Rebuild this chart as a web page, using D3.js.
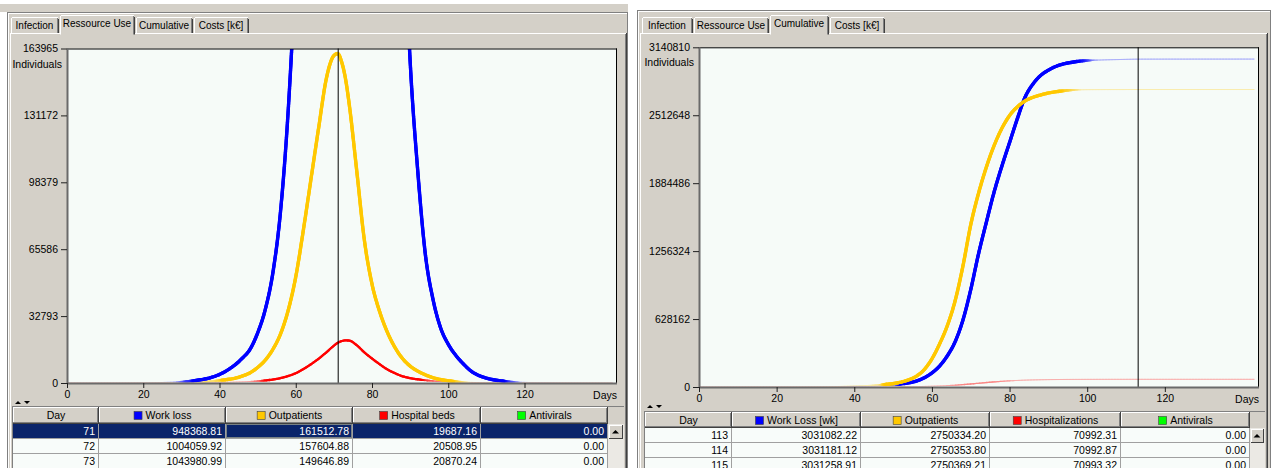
<!DOCTYPE html>
<html><head><meta charset="utf-8">
<script src="https://cdn.jsdelivr.net/npm/d3@7"></script>
<style>
body{margin:0;background:#fff;overflow:hidden;}
svg text{font-family:"Liberation Sans",Arial,sans-serif;font-size:10px;fill:#000;}
</style></head><body><svg id="c" width="1271" height="468"></svg>
<script>
// ---------------- DATA ----------------
const tabLabels = ["Infection", "Ressource Use", "Cumulative", "Costs [k€]"];
const xTicks = [0, 20, 40, 60, 80, 100, 120];
const leftYTicks = [0, 32793, 65586, 98379, 131172, 163965];
const rightYTicks = [0, 628162, 1256324, 1884486, 2512648, 3140810];
const yAxisTitle = "Individuals";
const xAxisTitle = "Days";

// Left chart: "Ressource Use" (daily)
const leftDays = [0,10,20,30,34,38,40,42,44,46,48,50,52,54,56,58,60,62,64,66,68,70,71,72,73,74,76,78,80,82,84,86,88,90,92,94,96,98,100,102,104,106,108,110,114,120,130,143];
const workLoss = [0,0,100,600,1300,2800,4200,6200,8800,12200,16500,24500,36000,54000,84000,133000,205000,300000,420000,550000,690000,880000,948368.81,1004059.92,1043980.99,1062000,1040000,950000,820000,660000,500000,360000,245000,158000,104000,63000,41000,27000,19000,13500,9300,5800,3700,2400,1000,300,50,0];
const outpatients = [0,0,50,200,400,900,1300,1700,2300,3400,5000,7600,11200,16500,24000,35500,52000,75000,100000,125000,149000,160500,161512.78,157604.88,149646.89,137000,104000,70000,48500,35000,25000,17500,12000,8300,5800,4000,2600,1700,1100,700,450,300,200,130,60,20,0,0];
const hospitalBeds = [0,0,0,50,120,200,250,330,450,580,750,950,1250,1700,2400,3400,4800,6800,9200,11900,15000,18300,19687.16,20508.95,20870.24,20800,18500,15000,12000,9200,6700,4800,3300,2400,1800,1350,1000,750,550,400,300,200,150,100,60,30,10,0];
const leftSeriesNames = ["Work loss", "Outpatients", "Hospital beds", "Antivirals"];
const leftTableDays = [71, 72, 73];
const leftTableAntivirals = [0, 0, 0];
const leftCursorDay = 71;

// Right chart: "Cumulative"
const rightDays = [0,10,20,30,40,44,48,50,52,54,56,58,60,62,64,66,68,70,72,74,76,78,80,82,84,86,88,90,92,94,96,98,100,104,108,113,114,115,120,130,143];
const workLossCum = [0,0,300,1500,6000,10000,17000,22000,29000,38000,55000,85000,130000,195000,290000,420000,620000,900000,1230000,1520000,1800000,2040000,2260000,2480000,2680000,2800000,2880000,2930000,2965000,2988000,3002000,3012000,3018000,3024000,3027500,3031082.22,3031181.12,3031258.91,3031500,3031700,3031800];
const outpatientsCum = [0,0,200,1500,9000,15000,24000,31000,45000,66000,100000,160000,260000,400000,570000,800000,1120000,1500000,1790000,2030000,2230000,2390000,2510000,2590000,2645000,2678000,2700000,2718000,2730000,2739000,2745000,2748000,2749200,2749900,2750150,2750334.20,2750353.80,2750369.21,2750420,2750460,2750480];
const hospitalizationsCum = [0,0,20,100,500,800,1300,1700,2200,2900,3900,5300,7200,9800,13000,17000,22000,28000,34500,41000,47000,52500,57000,60500,63500,65500,67000,68200,69000,69600,70000,70300,70500,70750,70880,70992.31,70992.87,70993.32,70995,70997,70998];
const rightSeriesNames = ["Work Loss [wk]", "Outpatients", "Hospitalizations", "Antivirals"];
const rightTableDays = [113, 114, 115];
const rightTableAntivirals = [0, 0, 0];
const rightCursorDay = 113;

const seriesColors = ["#0000ff", "#ffc800", "#ff0000", "#00ff00"];

// ---------------- STYLE / LAYOUT ----------------
const seriesMaxWidth = [3.4, 3.4, 2.3];
const W = 1271, H = 468;
const GREY = "#d4d0c8", DARK = "#808080", PLOTBG = "#f6fbf8", NAVY = "#0a246a", CELLBG = "#f8fcfa";
const svg = d3.select("#c");
svg.append("rect").attr("width", W).attr("height", H).attr("fill", "#fff");

function ln(g, x1, y1, x2, y2, c, w) {
  g.append("line").attr("x1", x1).attr("y1", y1).attr("x2", x2).attr("y2", y2)
    .attr("stroke", c).attr("stroke-width", w || 1);
}

function drawPanel(cfg) {
  const g = svg.append("g");
  const win = cfg.win;
  if (cfg.topBar) {
    g.append("rect").attr("x", cfg.topBar.x).attr("y", cfg.topBar.y).attr("width", cfg.topBar.w).attr("height", cfg.topBar.h).attr("fill", GREY);
  }
  g.append("rect").attr("x", win.x).attr("y", win.y).attr("width", win.w).attr("height", win.h).attr("fill", GREY);
  ln(g, win.x + 0.5, win.y, win.x + 0.5, H, DARK);
  ln(g, win.x, win.y + 0.5, win.x + win.w, win.y + 0.5, DARK);
  ln(g, win.x + 1.5, win.y + 1, win.x + 1.5, H, "#fff");
  ln(g, win.x + 1, win.y + 1.5, win.x + win.w - 1, win.y + 1.5, "#fff");
  ln(g, win.x + win.w - 0.5, win.y, win.x + win.w - 0.5, H, DARK);

  const pg = cfg.page;
  ln(g, pg.x, pg.y + 0.5, pg.x + pg.w, pg.y + 0.5, "#fff");
  ln(g, pg.x + 0.5, pg.y, pg.x + 0.5, H, "#fff");
  ln(g, pg.x + pg.w - 1.5, pg.y + 1, pg.x + pg.w - 1.5, H, DARK);
  ln(g, pg.x + pg.w - 0.5, pg.y, pg.x + pg.w - 0.5, H, "#404040");

  cfg.tabs.forEach((t, i) => {
    const sel = i === cfg.selTab;
    const top = sel ? cfg.tabTop - 2 : cfg.tabTop;
    const bot = sel ? pg.y + 1.5 : pg.y;
    g.append("rect").attr("x", t[0]).attr("y", top).attr("width", t[1] - t[0]).attr("height", bot - top).attr("fill", GREY);
    ln(g, t[0] + 0.5, top + 1, t[0] + 0.5, bot, "#fff");
    ln(g, t[0] + 1, top + 0.5, t[1] - 1, top + 0.5, "#fff");
    ln(g, t[1] - 1.5, top + 1, t[1] - 1.5, bot, DARK);
    ln(g, t[1] - 0.5, top + 2, t[1] - 0.5, bot, "#404040");
    g.append("text").attr("x", (t[0] + t[1]) / 2 - 0.5).attr("y", sel ? cfg.tabTop + 10 : cfg.tabTop + 12)
      .attr("text-anchor", "middle").style("font-size", "10px").text(tabLabels[i]);
  });

  // plot
  const p = cfg.plot;
  const xs = d3.scaleLinear().domain([0, 144]).range([p.x0, p.x1]);
  const ys = d3.scaleLinear().domain([0, cfg.yTicks[cfg.yTicks.length - 1]]).range([p.y1, p.y0]);
  const pxPerDay = xs(1) - xs(0);
  g.append("rect").attr("x", p.x0).attr("y", p.y0).attr("width", p.x1 - p.x0).attr("height", p.y1 - p.y0).attr("fill", PLOTBG);

  const clipId = "clip" + cfg.id;
  svg.append("clipPath").attr("id", clipId).append("rect")
    .attr("x", p.x0 + 1).attr("y", p.y0 + 0.5).attr("width", p.x1 - p.x0 - 1).attr("height", p.y1 - p.y0 - 1);
  const lines = g.append("g").attr("clip-path", `url(#${clipId})`);

  // smooth curve through the data via d3.line + monotone curve, stroked in short pieces
  const lineGen = d3.line().x(d => xs(d[0])).y(d => ys(d[1])).curve(d3.curveMonotoneX);
  const segs = [];
  cfg.series.forEach((vals, si) => {
    const col = seriesColors[si];
    const maxW = seriesMaxWidth[si];
    const path = lines.append("path").attr("d", lineGen(cfg.days.map((d, i) => [d, vals[i]]))).attr("fill", "none").attr("stroke", "none");
    const node = path.node();
    const len = node.getTotalLength();
    const step = 1.5;
    const local = [];
    let prev = node.getPointAtLength(0);
    for (let l = step; ; l += step) {
      const pt = node.getPointAtLength(Math.min(l, len));
      const dx = Math.abs(pt.x - prev.x), dy = Math.abs(pt.y - prev.y);
      const slope = dx < 1e-6 ? 99 : dy / (dx / pxPerDay);
      local.push({xa: prev.x, ya: prev.y, xb: pt.x, yb: pt.y, raw: Math.max(0, Math.min(1, (slope - 0.25) / 0.45)), col, maxW});
      prev = pt;
      if (l >= len) break;
    }
    const N = 7;
    local.forEach((s, i) => {
      let m = 0;
      for (let j = Math.max(0, i - N); j <= Math.min(local.length - 1, i + N); j++) m = Math.max(m, local[j].raw);
      s.t = m;
      segs.push(s);
    });
    path.remove();
  });
  segs.sort((a, b) => a.t - b.t);
  segs.forEach(s => {
    lines.append("line").attr("x1", s.xa).attr("y1", s.ya).attr("x2", s.xb).attr("y2", s.yb)
      .attr("stroke", d3.interpolateRgb(PLOTBG, s.col)(0.3 + 0.7 * s.t))
      .attr("stroke-width", 1 + (s.maxW - 1) * s.t).attr("stroke-linecap", "round");
  });

  // cursor
  ln(g, xs(cfg.cursor) + 0.5, p.y0, xs(cfg.cursor) + 0.5, p.y1, "#000");

  // frame
  ln(g, p.x0, p.y0 + 0.5, p.x1 + 1, p.y0 + 0.5, "#000");
  ln(g, p.x1 + 0.5, p.y0, p.x1 + 0.5, p.y1, "#000");

  // axes
  const ya = g.append("g").attr("transform", `translate(${p.x0},0)`)
    .call(d3.axisLeft(ys).tickValues(cfg.yTicks).tickSize(6).tickPadding(3).tickFormat(d3.format("d")));
  const xa = g.append("g").attr("transform", `translate(0,${p.y1})`)
    .call(d3.axisBottom(xs).tickValues(xTicks).tickSize(5).tickPadding(3).tickFormat(d3.format("d")));
  [ya, xa].forEach(a => {
    a.select(".domain").attr("stroke", "#6a6a6a").attr("stroke-width", 2);
    a.selectAll(".tick line").attr("stroke", "#202020");
    a.selectAll(".tick text").style("font-size", "10.5px").attr("fill", "#000");
    a.attr("font-family", null).attr("font-size", null);
  });
  ya.select(".domain").attr("d", `M0.5,${p.y0}V${p.y1}`);
  xa.select(".domain").attr("d", `M${p.x0},0.5H${p.x1 + 1}`);
  g.append("text").attr("x", p.x0 - 5).attr("y", p.y0 + 19).attr("text-anchor", "end").style("font-size", "10.5px").text(yAxisTitle);
  g.append("text").attr("x", p.x1 + 1).attr("y", p.y1 + 16).attr("text-anchor", "end").style("font-size", "10.5px").text(xAxisTitle);

  // splitter arrows
  const sp = cfg.split;
  g.append("path").attr("d", `M${sp.x},${sp.y + 3}l3,-3l3,3z`).attr("fill", "#000");
  g.append("path").attr("d", `M${sp.x + 9},${sp.y}l3,3l3,-3z`).attr("fill", "#000");

  // table
  const tb = cfg.table;
  const cols = tb.cols;
  ln(g, cols[0] - 0.5, tb.y - 1, cols[0] - 0.5, H, DARK);
  ln(g, cols[0] - 1, tb.y - 0.5, tb.scroll[1], tb.y - 0.5, DARK);
  const hdr = ["Day"].concat(cfg.names);
  for (let c = 0; c < cols.length - 1; c++) {
    const x0 = cols[c], x1 = cols[c + 1];
    g.append("rect").attr("x", x0).attr("y", tb.y).attr("width", x1 - x0).attr("height", tb.hh).attr("fill", GREY);
    ln(g, x0 + 0.5, tb.y, x0 + 0.5, tb.y + tb.hh - 1, "#fff");
    ln(g, x0, tb.y + 0.5, x1 - 1, tb.y + 0.5, "#fff");
    ln(g, x1 - 1.5, tb.y + 1, x1 - 1.5, tb.y + tb.hh, DARK);
    ln(g, x1 - 0.5, tb.y, x1 - 0.5, tb.y + tb.hh, "#404040");
    ln(g, x0, tb.y + tb.hh - 1.5, x1 - 1, tb.y + tb.hh - 1.5, DARK);
    ln(g, x0, tb.y + tb.hh - 0.5, x1, tb.y + tb.hh - 0.5, "#404040");
    const cx = (x0 + x1) / 2;
    if (c === 0) {
      g.append("text").attr("x", cx).attr("y", tb.y + 12).attr("text-anchor", "middle").style("font-size", "10.5px").text(hdr[c]);
    } else {
      const tx = g.append("text").attr("x", cx + 6).attr("y", tb.y + 12).attr("text-anchor", "middle").style("font-size", "10.5px").text(hdr[c]);
      const w = tx.node().getComputedTextLength();
      const sx = cx + 6 - w / 2 - 12;
      g.append("rect").attr("x", sx + 0.5).attr("y", tb.y + 4.5).attr("width", 8).attr("height", 8)
        .attr("fill", seriesColors[c - 1]).attr("stroke", "#404040").attr("stroke-width", 0.6);
    }
  }
  g.append("rect").attr("x", tb.scroll[0]).attr("y", tb.y).attr("width", tb.scroll[1] - tb.scroll[0]).attr("height", tb.hh).attr("fill", GREY);
  const fmt = d3.format(".2f");
  tb.rows.forEach((r, ri) => {
    const y = tb.y + tb.hh + ri * tb.rh;
    const sel = ri === cfg.selRow;
    g.append("rect").attr("x", cols[0]).attr("y", y).attr("width", cols[cols.length - 1] - cols[0]).attr("height", tb.rh)
      .attr("fill", sel ? NAVY : CELLBG);
    for (let c = 0; c < cols.length - 1; c++) {
      ln(g, cols[c + 1] - 0.5, y, cols[c + 1] - 0.5, y + tb.rh, "#a0a0a0");
      const txt = c === 0 ? String(r[0]) : fmt(r[c]);
      g.append("text").attr("x", cols[c + 1] - 4).attr("y", y + 11).attr("text-anchor", "end")
        .style("font-size", "10.5px").style("fill", sel ? "#fff" : "#000").text(txt);
    }
    ln(g, cols[0], y + tb.rh - 0.5, cols[cols.length - 1], y + tb.rh - 0.5, "#a0a0a0");
    if (sel && cfg.focusCol != null) {
      g.append("rect").attr("x", cols[cfg.focusCol] + 0.5).attr("y", y + 0.5)
        .attr("width", cols[cfg.focusCol + 1] - cols[cfg.focusCol] - 2).attr("height", tb.rh - 2)
        .attr("fill", "none").attr("stroke", "#e8e0a0").attr("stroke-dasharray", "1,1");
    }
  });
  const sx0 = tb.scroll[0], sx1 = tb.scroll[1];
  const by = tb.y + tb.hh;
  g.append("rect").attr("x", sx0).attr("y", by).attr("width", sx1 - sx0).attr("height", H - by).attr("fill", "#ebe9e4");
  g.append("rect").attr("x", sx0 + 1).attr("y", by + 1).attr("width", sx1 - sx0 - 2).attr("height", tb.rh - 1).attr("fill", GREY);
  ln(g, sx0 + 1.5, by + 1, sx0 + 1.5, by + tb.rh, "#fff");
  ln(g, sx0 + 1, by + 1.5, sx1 - 1, by + 1.5, "#fff");
  ln(g, sx1 - 1.5, by + 1, sx1 - 1.5, by + tb.rh, "#404040");
  ln(g, sx0 + 1, by + tb.rh - 0.5, sx1 - 1, by + tb.rh - 0.5, "#404040");
  const ax = (sx0 + sx1) / 2 - 0.5, ay = by + tb.rh / 2 + 2;
  g.append("path").attr("d", `M${ax - 3.5},${ay}l3.5,-3.5l3.5,3.5z`).attr("fill", "#000");
}

function tableRows(tDays, days, series, antiv) {
  return tDays.map((d, k) => {
    const i = days.indexOf(d);
    return [d].concat(series.map(s => s[i])).concat([antiv[k]]);
  });
}

drawPanel({
  id: "L",
  topBar: {x: 0, y: 4, w: 628, h: 8},
  win: {x: 7, y: 12, w: 621, h: 456},
  page: {x: 10, y: 33, w: 617},
  tabTop: 17,
  tabs: [[11, 59], [60, 135], [136, 193], [194, 249]],
  selTab: 1,
  plot: {x0: 67, x1: 616, y0: 48.5, y1: 383},
  yTicks: leftYTicks,
  days: leftDays,
  series: [workLoss, outpatients, hospitalBeds],
  cursor: leftCursorDay,
  split: {x: 15, y: 401},
  names: leftSeriesNames,
  table: {y: 407, hh: 17, rh: 15, cols: [13, 99, 226, 353, 481, 608], scroll: [608, 624],
    rows: tableRows(leftTableDays, leftDays, [workLoss, outpatients, hospitalBeds], leftTableAntivirals)},
  selRow: 0,
  focusCol: 2
});

drawPanel({
  id: "R",
  topBar: null,
  win: {x: 637, y: 10, w: 634, h: 458},
  page: {x: 640, y: 33, w: 628},
  tabTop: 17,
  tabs: [[642, 693], [694, 769], [770, 829], [830, 885]],
  selTab: 2,
  plot: {x0: 699, x1: 1258, y0: 47.3, y1: 387},
  yTicks: rightYTicks,
  days: rightDays,
  series: [workLossCum, outpatientsCum, hospitalizationsCum],
  cursor: rightCursorDay,
  split: {x: 647, y: 405},
  names: rightSeriesNames,
  table: {y: 412, hh: 16, rh: 15, cols: [645, 732, 861, 990, 1121, 1250], scroll: [1250, 1265],
    rows: tableRows(rightTableDays, rightDays, [workLossCum, outpatientsCum, hospitalizationsCum], rightTableAntivirals)},
  selRow: -1,
  focusCol: null
});
</script></body></html>
